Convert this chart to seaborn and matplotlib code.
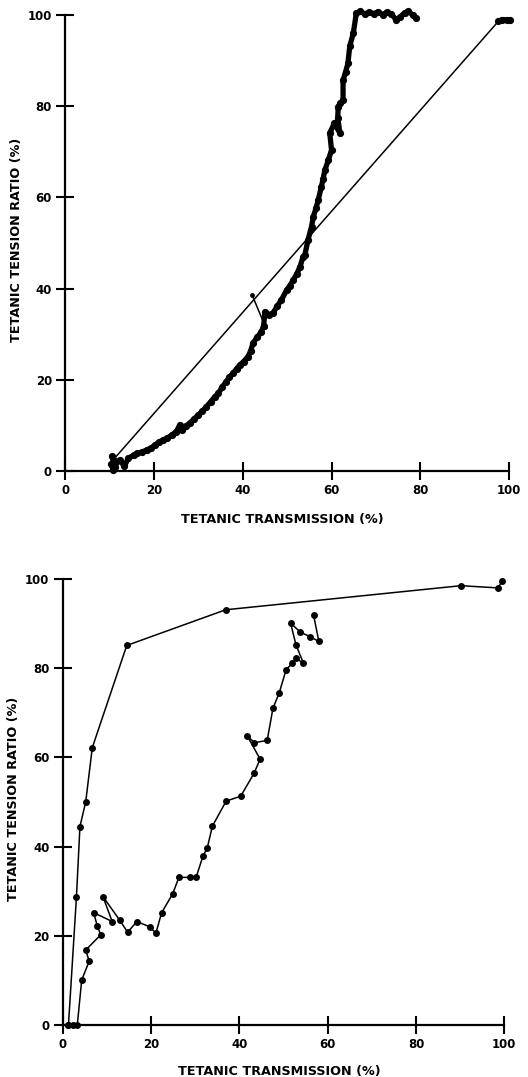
import matplotlib
matplotlib.use("Agg")
import matplotlib.pyplot as plt
import seaborn as sns
import pandas as pd

# ---- top panel: continuous recording ----
trace_x = [10.3, 10.8, 11.2, 10.5, 11.5, 12.3, 13.3, 14.2, 15.5, 16.1, 17.2, 18.3,
           19.3, 20.2, 21.2, 22.1, 23.0, 24.0, 25.0, 25.8, 26.2, 27.2, 28.1, 29.0,
           30.0, 30.9, 31.8, 32.8, 33.7, 34.5, 35.4, 36.3, 37.0, 37.8, 38.6, 39.3,
           40.2, 41.2, 41.8, 42.3, 43.2, 44.2, 44.7, 45.0, 45.9, 46.8, 47.8, 48.7,
           49.9, 50.6, 51.4, 52.2, 52.9, 53.6, 54.0, 54.7, 55.5, 55.9, 56.5, 57.0,
           57.7, 58.1, 58.5, 59.3, 60.0, 59.6, 60.6, 61.9, 61.4, 61.5, 62.0, 62.6,
           62.6, 63.2, 63.7, 64.1, 64.9, 65.6, 66.5, 67.5, 68.5, 69.5, 70.5, 71.5,
           72.5, 73.5, 74.6, 75.5, 76.5, 77.3, 78.3, 79.1]
trace_y = [1.5, 0.3, 0.8, 3.2, 2.0, 2.4, 1.0, 2.8, 3.5, 3.9, 4.1, 4.6,
           5.0, 5.7, 6.4, 6.8, 7.2, 7.9, 8.6, 10.1, 9.0, 9.9, 10.5, 11.4,
           12.3, 13.1, 14.1, 15.2, 16.3, 17.0, 18.5, 19.6, 20.6, 21.4, 22.4, 23.2,
           24.0, 25.1, 26.4, 28.0, 29.3, 30.5, 31.9, 34.9, 34.3, 34.6, 36.2, 37.5,
           39.7, 40.6, 41.9, 43.3, 44.8, 47.0, 47.4, 50.7, 53.6, 55.8, 57.6, 59.4,
           62.3, 64.0, 66.0, 68.2, 70.4, 74.1, 76.2, 74.1, 77.4, 79.9, 80.6, 81.4,
           85.7, 87.6, 89.4, 93.1, 96.0, 100.4, 100.8, 100.2, 100.6, 100.3, 100.7, 100.1,
           100.6, 100.2, 98.9, 99.6, 100.5, 100.8, 100.0, 99.3]

# thin straight segment from the start to the final plateau
chord_x = [11.3, 97.6]
chord_y = [3.0, 98.6]
end_x = [97.6, 98.5, 99.5, 100.3]
end_y = [98.6, 99.0, 98.9, 98.8]

# stray point joined to the trace
stray_x = [42.1, 45.1]
stray_y = [38.6, 31.6]

# ---- bottom panel: two stimulation series ----
a_x = [1.3, 3.1, 3.9, 5.2, 6.7, 14.5, 36.9, 90.2, 98.6, 99.5]
a_y = [0.0, 28.6, 44.5, 50.0, 62.2, 85.1, 93.1, 98.5, 98.0, 99.6]

b_x = [1.3, 2.3, 3.3, 4.3, 6.0, 5.2, 8.6, 7.8, 7.0, 11.2, 9.1, 12.9,
       14.7, 16.8, 19.7, 21.1, 22.4, 24.9, 26.3, 28.8, 30.2, 31.8, 32.7, 33.9,
       37.0, 40.3, 43.3, 44.7, 41.8, 43.4, 46.3, 47.6, 49.0, 50.6, 52.0, 52.9,
       54.5, 52.8, 51.6, 53.8, 55.9, 58.0, 56.8]
b_y = [0.0, 0.0, 0.0, 10.1, 14.3, 16.8, 20.2, 22.3, 25.2, 23.2, 28.8, 23.5,
       20.8, 23.2, 22.0, 20.6, 25.2, 29.4, 33.1, 33.1, 33.1, 38.0, 39.6, 44.6,
       50.2, 51.3, 56.4, 59.6, 64.8, 63.3, 63.8, 71.0, 74.4, 79.7, 81.1, 82.2,
       81.1, 85.3, 90.1, 88.1, 87.1, 86.0, 91.9]

ticks = [0, 20, 40, 60, 80, 100]
xlabel = "TETANIC TRANSMISSION (%)"
ylabel = "TETANIC TENSION RATIO (%)"

sns.set_style("white")
plt.rcParams["font.family"] = ["DejaVu Sans"]
plt.rcParams["font.weight"] = "bold"
plt.rcParams["text.color"] = "black"


def style_axes(ax, xlab_y, ylab_x):
    ax.set_xlim(0, 100)
    ax.set_ylim(0, 100)
    sns.despine(ax=ax)
    for s in ["left", "bottom"]:
        ax.spines[s].set_linewidth(1.6)
        ax.spines[s].set_color("black")
    ax.set_xticks(ticks)
    ax.set_yticks(ticks)
    ax.tick_params(bottom=True, left=True, direction="inout", length=13,
                   width=1.5, colors="black", labelsize=8.5, pad=3)
    ax.set_xlabel(xlabel, fontsize=9.2, fontweight="bold", color="black")
    ax.set_ylabel(ylabel, fontsize=9.2, fontweight="bold", color="black")
    ax.xaxis.set_label_coords(0.49, xlab_y)
    ax.yaxis.set_label_coords(ylab_x, 0.507)


fig = plt.figure(figsize=(5.28, 10.77), dpi=100)
ax1 = fig.add_axes([0.1237, 0.5627, 0.8403, 0.4234])
ax2 = fig.add_axes([0.1188, 0.0483, 0.8364, 0.4141])

# top panel
top = pd.DataFrame({"x": trace_x, "y": trace_y})
sns.lineplot(data=top, x="x", y="y", sort=False, estimator=None, ax=ax1,
             color="black", linewidth=3.8, marker="o", markersize=5.2,
             markeredgewidth=0, clip_on=False)
sns.lineplot(x=chord_x, y=chord_y, sort=False, estimator=None, ax=ax1,
             color="black", linewidth=1.1, clip_on=False)
sns.lineplot(x=end_x, y=end_y, sort=False, estimator=None, ax=ax1,
             color="black", linewidth=3.8, marker="o", markersize=5.2,
             markeredgewidth=0, clip_on=False)
sns.lineplot(x=stray_x, y=stray_y, sort=False, estimator=None, ax=ax1,
             color="black", linewidth=1.1, marker="o", markersize=3.5,
             markeredgewidth=0, clip_on=False)
style_axes(ax1, -0.092, -0.095)

# bottom panel
for xs, ys in [(a_x, a_y), (b_x, b_y)]:
    sns.lineplot(x=xs, y=ys, sort=False, estimator=None, ax=ax2,
                 color="black", linewidth=1.1, marker="o", markersize=5,
                 markeredgewidth=0, clip_on=False)
style_axes(ax2, -0.090, -0.097)

fig.savefig("out.png", dpi=100)
